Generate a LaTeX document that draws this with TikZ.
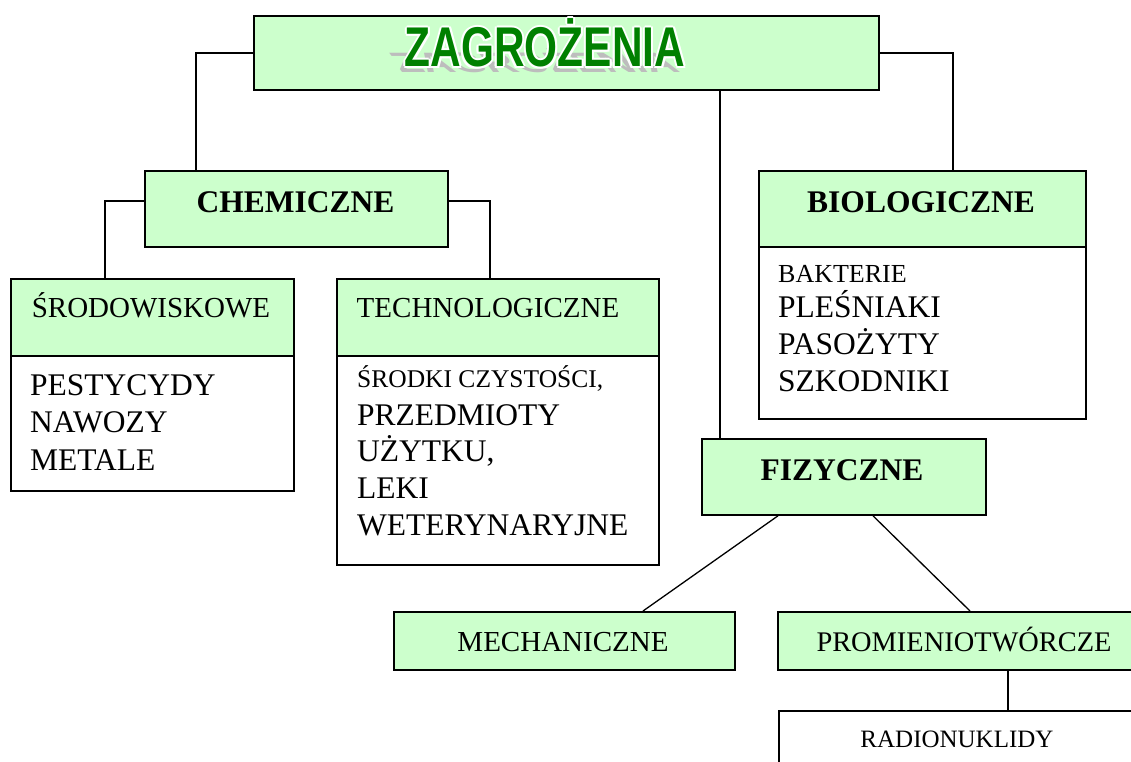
\documentclass[tikz,border=0pt]{standalone}
\usepackage{fontspec}
\setmainfont{Liberation Serif}
\newfontfamily\titlefont{Liberation Sans}
\definecolor{lgreen}{HTML}{CCFFCC}
\definecolor{tgreen}{HTML}{008000}
\definecolor{shgray}{HTML}{BDBDBD}
\newcommand{\ttext}{\scalebox{0.757}[1]{ZAGRO\.ZENIA}}
\begin{document}
\begin{tikzpicture}[x=1pt,y=-1pt,
  box/.style={draw=black, line width=1.8pt, inner sep=0pt, anchor=north west},
  gbox/.style={box, fill=lgreen},
  wbox/.style={box, fill=white},
  conn/.style={line width=1.8pt},
  thin conn/.style={line width=1.3pt},
  txt/.style={inner sep=0pt, anchor=base},
  ltxt/.style={inner sep=0pt, anchor=base west},
  hdr/.style={txt, font=\fontsize{29}{29}\selectfont},
  bhdr/.style={txt, font=\bfseries\fontsize{31.5}{31.5}\selectfont},
  itm/.style={ltxt, font=\fontsize{31.5}{31.5}\selectfont},
  sitm/.style={ltxt, font=\fontsize{25.5}{25.5}\selectfont},
  ttl/.style={txt, font=\titlefont\bfseries\fontsize{56}{56}\selectfont},
]
\useasboundingbox (0,0) rectangle (1131,762);
\fill[white] (0,0) rectangle (1131,762);

% boxes
\node[gbox, minimum width=625pt, minimum height=74pt] (title) at (253,15) {};
\node[gbox, minimum width=303pt, minimum height=76pt] (chem) at (144,170) {};
\node[gbox, minimum width=283pt, minimum height=77pt] (srodH) at (10,278) {};
\node[wbox, minimum width=283pt, minimum height=135pt] (srodB) at (10,355) {};
\node[gbox, minimum width=322pt, minimum height=77pt] (techH) at (336,278) {};
\node[wbox, minimum width=322pt, minimum height=209pt] (techB) at (336,355) {};
\node[gbox, minimum width=327pt, minimum height=76pt] (bio) at (758,170) {};
\node[wbox, minimum width=327pt, minimum height=172pt] (bioB) at (758,246) {};
\node[gbox, minimum width=284pt, minimum height=76pt] (fiz) at (701,438) {};
\node[gbox, line width=1.5pt, minimum width=341pt, minimum height=58pt] (mech) at (393,611) {};
\node[gbox, line width=1.5pt, minimum width=362pt, minimum height=58pt] (prom) at (777,611) {};
\node[wbox, line width=1.5pt, minimum width=362pt, minimum height=80pt] (radio) at (778,710) {};

% title text: slanted cast shadow, white outline, green letters
\begin{scope}[shift={(541,73)}]
  \node[ttl, text=shgray, transform shape, xslant=-0.75, yscale=0.5] (tshadow) at (0,0) {\ttext};
\end{scope}
\foreach \dx/\dy [count=\i] in {-2/0,2/0,0/-2,0/2,-1.5/-1.5,1.5/-1.5,-1.5/1.5,1.5/1.5}
  \node[ttl, text=white] (tout\i) at (545+\dx,67+\dy) {\ttext};
\node[ttl, text=tgreen] (ttitle) at (545,67) {\ttext};

% header texts
\node[bhdr] (tchem) at (295.5,212) {CHEMICZNE};
\node[hdr] (tsrod) at (151,317) {ŚRODOWISKOWE};
\node[hdr] (ttech) at (488,317) {TECHNOLOGICZNE};
\node[bhdr] (tbio) at (921,212) {BIOLOGICZNE};
\node[bhdr] (tfiz) at (842,480) {FIZYCZNE};
\node[hdr] (tmech) at (563,651) {MECHANICZNE};
\node[txt, font=\fontsize{28.4}{28.4}\selectfont] (tprom) at (964,651) {PROMIENIOTWÓRCZE};
\node[txt, font=\fontsize{25}{25}\selectfont] (tradio) at (957,747) {RADIONUKLIDY};

% list texts
\node[itm] (s1) at (30,395) {PESTYCYDY};
\node[itm] (s2) at (30,432) {NAWOZY};
\node[itm] (s3) at (30,470) {METALE};

\node[sitm] (t1) at (357,387) {ŚRODKI CZYSTOŚCI,};
\node[itm] (t2) at (357,425) {PRZEDMIOTY};
\node[itm] (t3) at (357,461.5) {UŻYTKU,};
\node[itm] (t4) at (357,498) {LEKI};
\node[itm] (t5) at (357,535) {WETERYNARYJNE};

\node[ltxt, font=\fontsize{26}{26}\selectfont] (b1) at (778,282) {BAKTERIE};
\node[itm] (b2) at (778,317) {PLEŚNIAKI};
\node[itm] (b3) at (778,354) {PASOŻYTY};
\node[itm] (b4) at (778,391) {SZKODNIKI};

% connectors
\draw[conn] (title.west) -| ([xshift=52pt]chem.north west);
\draw[conn] (title.east) -| ([xshift=195pt]bio.north west);
\draw[conn] ([xshift=467pt]title.south west) -- ([xshift=19pt]fiz.north west);
\draw[conn] ([yshift=8pt]chem.west) -| ([xshift=95pt]srodH.north west);
\draw[conn] ([yshift=8pt]chem.east) -| ([xshift=154pt]techH.north west);
\draw[thin conn] ([xshift=77pt]fiz.south west) -- ([xshift=250pt]mech.north west);
\draw[thin conn] ([xshift=172pt]fiz.south west) -- ([xshift=193pt]prom.north west);
\draw[conn] ([xshift=231pt]prom.south west) -- ([xshift=230pt]radio.north west);
\end{tikzpicture}
\end{document}
